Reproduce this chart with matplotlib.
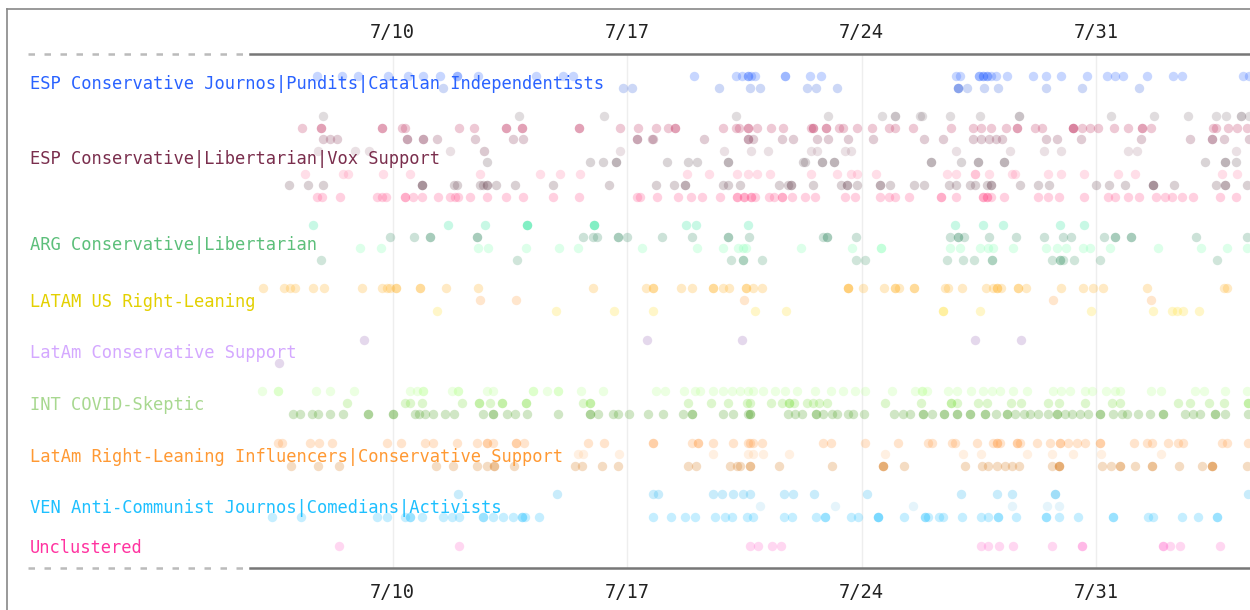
import matplotlib.pyplot as plt
from matplotlib.lines import Line2D

# x values are days of July (31.5 = Aug 0.5 etc.), one list per sub-cluster row.
# a value repeated means several posts at nearly the same time.
clusters = [
    "ESP Conservative Journos|Pundits|Catalan Independentists",
    "ESP Conservative|Libertarian|Vox Support",
    "ARG Conservative|Libertarian",
    "LATAM US Right-Leaning",
    "LatAm Conservative Support",
    "INT COVID-Skeptic",
    "LatAm Right-Leaning Influencers|Conservative Support",
    "VEN Anti-Communist Journos|Comedians|Activists",
    "Unclustered",
]
label_colors = ["#2962ff", "#7a2e4d", "#5cbf7a", "#e3d000", "#d4a8ff",
                "#a8d890", "#ff9933", "#1ec0ff", "#ff33a0"]

esp_journos = [
    [7.75, 8.49, 8.97, 9.87, 10.46, 10.91, 11.42, 11.93, 11.93, 12.55, 14.28, 15.09, 15.39,
     19.0, 20.25, 20.43, 20.61, 20.61, 20.70, 20.82, 21.72, 21.72, 22.46, 22.79,
     26.82, 26.94, 27.51, 27.51, 27.63, 27.63, 27.75, 27.75, 27.87, 28.01, 28.34, 29.12, 29.51,
     29.96, 30.73, 31.33, 31.57, 31.81, 32.52, 33.30, 33.57, 35.39, 35.57],
    [11.51, 16.88, 17.15, 19.75, 20.67, 20.97, 22.37, 22.64, 23.27, 26.88, 26.88, 26.88,
     27.15, 27.66, 28.07, 29.51, 30.58, 32.28],
]
esp_vox = [
    [7.93, 13.78, 16.31, 20.25, 23.0, 24.61, 25.0, 25.0, 25.75, 25.81, 26.64, 27.54,
     28.70, 28.70, 31.45, 32.73, 33.75, 34.58, 34.88, 35.33, 35.33, 35.57],
    [7.30, 7.87, 7.87, 9.69, 9.69, 10.28, 10.37, 11.99, 12.43, 13.39, 13.39, 13.87, 13.87,
     15.57, 15.57, 16.79, 17.33, 17.87, 18.22, 18.43, 18.43, 19.87, 20.25, 20.34, 20.61,
     20.61, 20.88, 21.30, 21.66, 22.49, 22.55, 22.55, 22.94, 22.94, 23.33, 23.45, 23.87,
     24.31, 24.82, 25.0, 25.54, 26.67, 27.33, 27.57, 27.87, 28.31, 28.64, 28.64, 29.18,
     29.39, 30.31, 30.31, 30.31, 30.58, 30.82, 31.06, 31.54, 31.96, 32.37, 32.37, 32.64,
     34.49, 34.58, 34.94, 35.21, 35.51],
    [7.93, 8.13, 8.34, 10.43, 10.43, 10.91, 10.91, 11.33, 12.46, 13.60, 13.90, 17.30, 17.30,
     17.75, 17.78, 19.30, 20.61, 20.61, 20.76, 21.63, 21.96, 22.67, 23.0, 23.60, 24.34,
     25.87, 26.43, 27.33, 27.57, 27.81, 28.01, 28.19, 29.51, 29.84, 30.55, 32.34, 33.81,
     34.46, 34.46, 34.82, 35.57],
    [7.78, 8.88, 9.30, 11.72, 12.73, 12.73, 16.79, 19.90, 20.70, 21.21, 22.49, 22.67, 23.51,
     23.69, 26.82, 28.43, 29.45, 29.96, 31.96, 32.22, 35.18],
    [12.82, 15.90, 16.28, 16.67, 16.67, 18.2, 18.82, 19.09, 20.01, 20.01, 22.25, 22.31,
     22.82, 22.82, 23.18, 23.18, 26.07, 26.07, 26.97, 27.48, 27.48, 28.25, 28.25, 34.25,
     34.85, 34.85, 35.18],
    [7.39, 8.52, 8.67, 9.72, 10.52, 12.61, 14.40, 15.0, 15.60, 18.79, 19.45, 20.28, 20.61,
     20.88, 21.27, 22.49, 23.27, 23.69, 23.87, 24.43, 26.55, 26.82, 27.39, 27.39, 27.81,
     28.49, 28.58, 29.57, 29.96, 30.64, 31.66, 32.16, 34.76, 35.21],
    [6.91, 7.48, 7.93, 10.88, 10.88, 10.88, 11.84, 11.93, 12.61, 12.70, 12.82, 12.82, 13.09,
     13.66, 14.79, 16.46, 17.87, 18.40, 18.73, 18.73, 19.87, 20.01, 20.37, 21.54, 21.81,
     21.90, 21.90, 22.55, 23.39, 23.57, 23.57, 23.87, 24.55, 24.55, 24.85, 25.57, 25.87,
     26.61, 26.82, 27.24, 27.39, 27.75, 27.87, 27.87, 28.73, 29.27, 29.60, 31.0, 31.39,
     31.87, 32.70, 32.70, 32.70, 33.33, 34.58, 34.85, 34.85, 35.51],
    [7.75, 7.90, 8.43, 9.54, 9.69, 9.81, 10.37, 10.37, 10.61, 10.88, 11.36, 11.72, 11.87,
     11.96, 12.31, 12.82, 13.39, 13.90, 14.79, 15.57, 17.30, 17.39, 17.90, 18.52, 18.91,
     19.24, 19.78, 20.28, 20.28, 20.49, 20.49, 20.70, 20.70, 20.82, 21.24, 21.39, 21.63,
     21.63, 21.93, 22.31, 22.61, 23.51, 23.81, 24.55, 24.82, 25.0, 25.42, 26.37, 26.37,
     26.82, 27.63, 27.63, 27.75, 27.75, 27.87, 28.25, 29.27, 29.57, 29.90, 30.64, 31.36,
     31.57, 31.96, 32.28, 32.79, 33.06, 33.27, 33.57, 33.90, 34.70, 35.18],
]
arg = [
    [7.63, 11.66, 12.76, 14.01, 14.01, 14.01, 16.01, 16.01, 16.01, 18.76, 19.06, 20.61,
     26.79, 27.63, 28.22, 29.93, 30.64],
    [9.93, 10.64, 11.12, 11.12, 12.52, 12.52, 15.69, 15.99, 16.10, 16.73, 16.73, 16.99,
     18.04, 18.94, 20.01, 20.01, 20.64, 22.85, 22.97, 22.97, 23.84, 26.64, 26.88, 26.88,
     27.06, 27.81, 28.61, 29.45, 30.01, 30.25, 31.24, 31.57, 31.57, 32.04, 32.04, 33.99, 35.51],
    [9.03, 9.66, 12.55, 12.85, 13.99, 14.97, 15.54, 17.45, 19.09, 19.87, 20.31, 20.46,
     20.55, 22.19, 23.72, 24.58, 24.58, 26.64, 26.94, 27.54, 27.78, 27.93, 28.52, 29.51,
     29.84, 30.10, 30.61, 30.82, 31.42, 32.85, 34.13, 34.91, 35.51],
    [7.87, 13.72, 20.10, 20.46, 20.46, 21.03, 23.84, 24.10, 26.55, 27.03, 27.36, 27.90,
     27.90, 29.69, 29.93, 29.93, 30.01, 30.34, 31.12, 34.61],
]
latam_us = [
    [6.13, 6.76, 6.94, 7.09, 7.63, 7.96, 9.09, 9.69, 9.84, 9.93, 10.10, 10.10, 10.82, 10.82,
     11.60, 12.55, 15.99, 17.57, 17.78, 17.78, 18.61, 18.94, 19.57, 19.57, 19.87, 20.04,
     20.55, 20.55, 20.76, 21.03, 23.60, 23.60, 23.60, 24.04, 24.67, 25.0, 25.0, 25.12,
     25.57, 25.57, 26.49, 26.58, 27.0, 27.72, 27.93, 28.04, 28.04, 28.16, 28.67, 28.67,
     28.91, 29.96, 30.61, 30.91, 31.21, 32.52, 34.82, 34.91],
    [12.61, 13.69, 20.49, 29.72, 32.64],
    [11.33, 14.88, 16.61, 17.78, 20.82, 21.75, 26.43, 26.43, 27.54, 30.85, 32.70, 33.27,
     33.42, 33.60, 34.07],
]
latam_cons = [
    [9.15, 17.60, 20.43, 27.39, 28.76],
    [],
    [6.61],
]
covid = [
    [6.10, 6.58, 6.58, 7.72, 8.13, 8.85, 10.52, 10.73, 10.91, 10.91, 11.78, 11.96, 11.96,
     12.82, 13.0, 14.19, 14.19, 14.61, 14.94, 14.94, 15.63, 16.28, 17.87, 18.13, 18.70,
     19.03, 19.18, 19.57, 19.87, 20.13, 20.37, 20.61, 20.76, 21.06, 21.42, 21.72, 22.07,
     22.61, 23.09, 23.45, 23.81, 24.10, 24.91, 25.60, 25.81, 25.81, 25.96, 26.58, 26.85,
     27.27, 27.63, 27.90, 28.13, 28.52, 28.93, 29.72, 29.96, 30.22, 30.67, 30.88, 31.30,
     31.57, 31.72, 32.64, 32.94, 33.96, 34.22, 34.85, 35.51],
    [8.64, 10.37, 10.52, 10.88, 12.07, 12.58, 12.58, 12.91, 13.27, 13.27, 13.99, 13.99,
     15.69, 15.90, 15.90, 18.82, 19.51, 20.01, 20.58, 20.67, 21.30, 21.63, 21.84, 21.84,
     21.99, 22.37, 22.55, 22.73, 22.97, 24.70, 25.78, 26.67, 26.67, 26.85, 27.48, 27.75,
     28.46, 28.76, 29.57, 29.90, 30.67, 31.48, 31.72, 33.45, 33.81, 34.37, 34.82, 35.54, 35.54],
    [7.03, 7.24, 7.60, 7.78, 8.13, 8.52, 9.27, 9.27, 10.01, 10.01, 10.67, 10.79, 10.97,
     11.21, 11.57, 11.84, 12.70, 13.0, 13.0, 13.42, 13.66, 14.01, 14.94, 15.90, 15.90,
     16.13, 16.58, 16.73, 17.06, 17.63, 18.07, 18.67, 18.94, 18.94, 19.87, 20.16, 20.61,
     20.67, 20.67, 21.81, 22.01, 22.22, 22.64, 22.64, 22.85, 23.12, 23.27, 23.60, 23.75,
     24.07, 24.97, 25.24, 25.45, 25.84, 25.84, 26.10, 26.46, 26.46, 26.85, 26.85, 27.24,
     27.24, 27.69, 27.69, 28.01, 28.34, 28.34, 28.58, 28.84, 29.03, 29.27, 29.57, 29.84,
     29.84, 30.07, 30.28, 30.52, 30.76, 31.12, 31.12, 31.51, 31.78, 31.93, 32.25, 32.61,
     33.0, 33.0, 33.66, 33.90, 34.10, 34.55, 34.55, 34.85, 35.54],
]
latam_right = [
    [6.58, 6.70, 7.54, 7.81, 8.19, 9.84, 10.25, 10.97, 11.21, 11.93, 12.52, 12.82, 12.82,
     13.0, 13.69, 13.69, 13.93, 15.84, 16.31, 17.78, 17.78, 18.94, 19.12, 19.12, 19.57,
     20.16, 20.61, 20.67, 20.76, 21.03, 22.85, 23.09, 24.10, 25.09, 25.99, 26.10, 26.70,
     26.79, 27.45, 27.93, 28.04, 28.04, 28.13, 28.64, 28.64, 28.73, 29.24, 29.63, 29.93,
     29.93, 30.16, 30.43, 30.67, 31.12, 31.12, 32.13, 32.52, 32.67, 33.15, 33.45, 33.60,
     34.76, 34.91, 35.54],
    [15.54, 15.69, 16.76, 19.57, 20.61, 20.76, 21.06, 21.84, 24.70, 27.03, 27.57, 28.93,
     29.69, 30.31, 31.15, 32.94],
    [6.97, 7.78, 8.40, 11.30, 11.81, 12.52, 12.82, 13.03, 13.03, 13.63, 15.45, 15.66, 16.25,
     16.73, 18.82, 19.06, 20.07, 20.28, 20.37, 20.67, 20.67, 21.54, 23.12, 24.64, 24.64,
     24.64, 25.27, 27.09, 27.60, 27.78, 28.04, 28.28, 28.49, 28.70, 29.69, 29.90, 29.90,
     29.90, 31.18, 31.45, 31.72, 31.72, 32.16, 32.67, 32.67, 33.48, 34.16, 34.46, 34.46,
     34.46, 35.51],
]
ven = [
    [11.96, 14.91, 17.78, 17.93, 19.57, 19.84, 20.16, 20.46, 20.67, 21.69, 21.96, 22.58,
     24.16, 26.97, 28.04, 28.49, 29.78, 29.78, 35.54],
    [20.97, 23.21, 25.54, 28.49, 29.54, 29.90],
    [6.40, 7.27, 9.54, 9.84, 10.37, 10.52, 10.52, 10.88, 11.51, 11.78, 11.99, 12.70, 12.70,
     13.0, 13.30, 13.60, 13.87, 13.87, 13.96, 14.37, 17.78, 18.31, 18.73, 19.03, 19.63,
     19.93, 20.13, 20.58, 20.76, 21.69, 21.93, 22.64, 22.91, 22.91, 23.69, 23.90, 24.49,
     24.49, 24.49, 25.27, 25.90, 25.90, 25.99, 26.31, 26.43, 27.0, 27.57, 27.78, 28.07,
     28.07, 28.61, 29.51, 29.51, 29.90, 30.46, 31.51, 31.51, 32.55, 32.70, 33.57, 34.04,
     34.61, 34.61],
]
unclustered = [
    [8.40, 11.99, 20.67, 20.91, 21.33, 21.60, 27.57, 27.78, 28.10, 28.52, 29.69, 30.58,
     30.58, 33.0, 33.0, 33.21, 33.51, 34.70],
]
lanes = [esp_journos, esp_vox, arg, latam_us, latam_cons, covid, latam_right, ven, unclustered]

row_colors = [
    ["#2a62ff", "#3a66e0"],
    ["#8a7a82", "#c0305e", "#8a3a5a", "#b08a98", "#6e5a64", "#ff80a8", "#6e4a58", "#ff4d8a"],
    ["#2ee59d", "#3d8f6a", "#7dffb0", "#4a9e72"],
    ["#ffb020", "#ffa040", "#ffe030"],
    ["#9a6ab8", "#9a6ab8", "#9a6ab8"],
    ["#b8ff90", "#7de040", "#4aa020"],
    ["#ff9a40", "#ffc890", "#d87818"],
    ["#30b8f0", "#9cd8f0", "#22c0ff"],
    ["#ff66cc"],
]

tick_days = [10, 17, 24, 31]
tick_labels = ["7/10", "7/17", "7/24", "7/31"]

# layout (in pixel-like units, top of plot = 54, bottom = 568)
ROW_STEP = 11.5
LANE_GAP = 28.5
FIRST_ROW = 76
MONO = "DejaVu Sans Mono"

fig = plt.figure(figsize=(12.5, 6.1), dpi=100)
ax = fig.add_axes([250 / 1250, 1 - 568 / 610, 1000 / 1250, 514 / 610])

y = FIRST_ROW
for lane, colors, name, lc in zip(lanes, row_colors, clusters, label_colors):
    ys = []
    for row, col in zip(lane, colors):
        ax.scatter(row, [y] * len(row), s=46, color=col, alpha=0.26, linewidths=0, zorder=2)
        ys.append(y)
        y += ROW_STEP
    y += LANE_GAP - ROW_STEP
    center = (ys[0] + ys[-1]) / 2 + 2.5
    ax.text(-0.22, center, name, transform=ax.get_yaxis_transform(), ha="left",
            va="center", color=lc, fontsize=12.3, family=MONO, zorder=5)

ax.set_xlim(5.746, 35.597)
ax.set_ylim(568, 54)
ax.set_xticks(tick_days)
ax.set_xticklabels(tick_labels, family=MONO, fontsize=13.5, color="#222222")
ax.set_yticks([])
ax.tick_params(axis="x", length=0, pad=11)

top = ax.secondary_xaxis("top")
top.set_xticks(tick_days)
top.set_xticklabels(tick_labels, family=MONO, fontsize=13.5, color="#222222")
top.tick_params(axis="x", length=0, pad=8.6)
top.spines["top"].set_visible(False)

ax.grid(axis="x", color="#eeeeee", lw=1)
ax.set_axisbelow(True)
for side in ["left", "right"]:
    ax.spines[side].set_visible(False)
for side in ["top", "bottom"]:
    ax.spines[side].set_color("#777777")
    ax.spines[side].set_linewidth(1.8)

for yy in [0, 1]:
    ax.plot([-0.222, 0], [yy, yy], transform=ax.transAxes, clip_on=False,
            color="#bbbbbb", lw=1.8, ls=(0, (2.6, 3.8)))

# screenshot frame
fig.add_artist(Line2D([7 / 1250, 7 / 1250], [0, 1 - 9 / 610], color="#888888", lw=1.2))
fig.add_artist(Line2D([7 / 1250, 1], [1 - 9 / 610, 1 - 9 / 610], color="#888888", lw=1.2))

fig.savefig("out.png", dpi=100)
